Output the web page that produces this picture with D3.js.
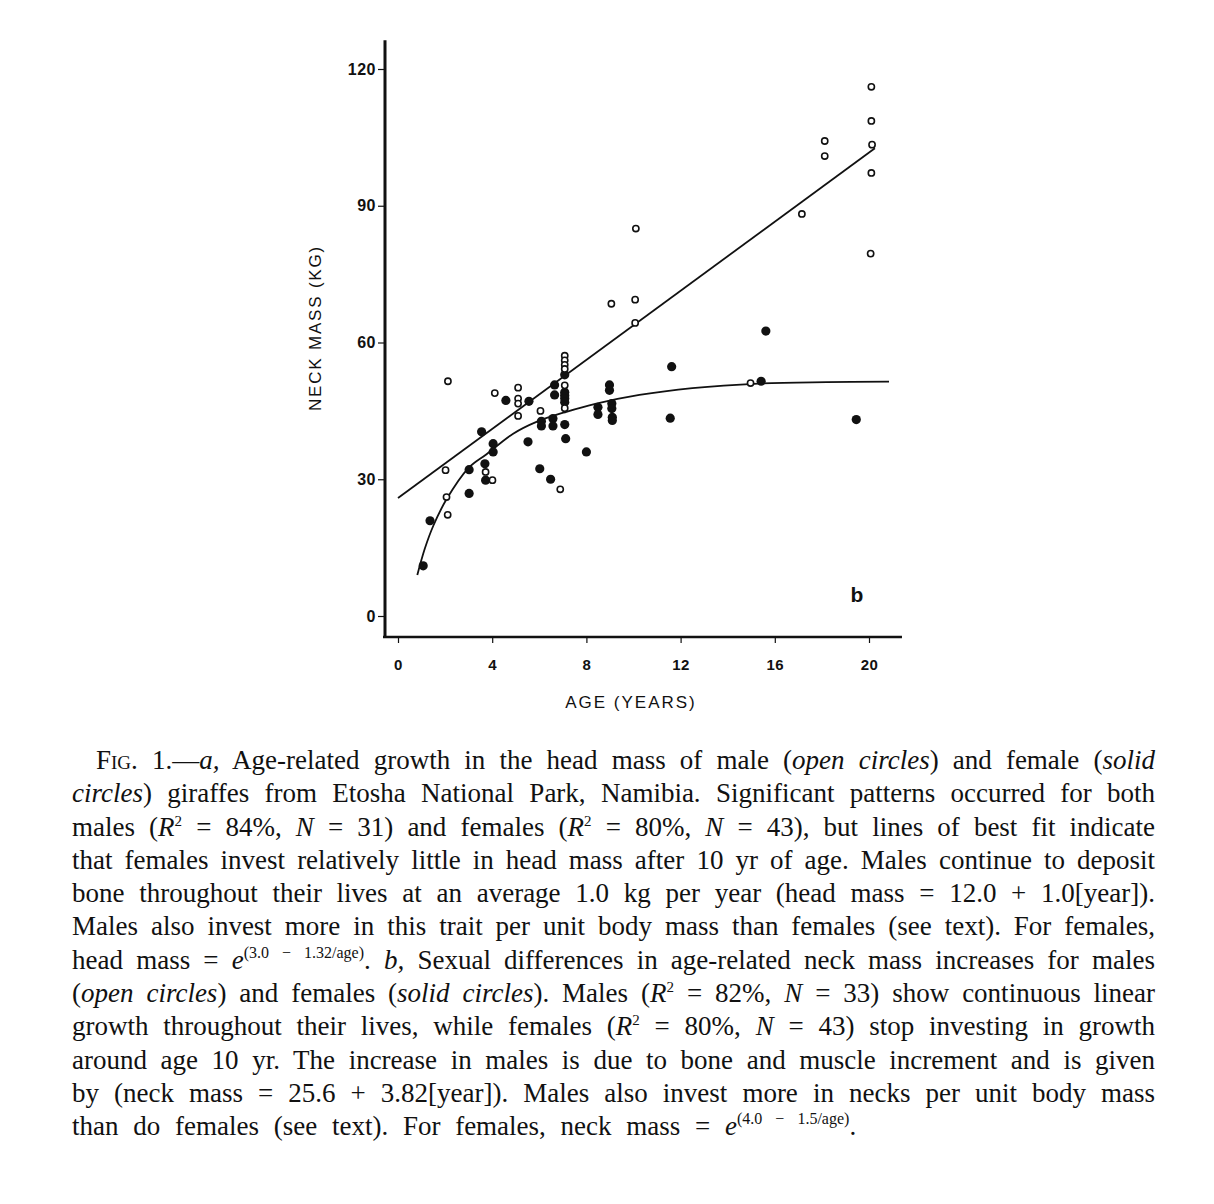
<!DOCTYPE html>
<html>
<head>
<meta charset="utf-8">
<script src="https://cdn.jsdelivr.net/npm/d3@7"></script>
<style>
  body { margin: 0; background: #fff; width: 1214px; height: 1204px; position: relative; overflow: hidden; }
  #chart { position: absolute; left: 0; top: 0; }
  #caption { position: absolute; left: 72px; top: 744px; width: 1083px;
             font-family: "Liberation Serif", "Times New Roman", serif; font-size: 27px; color: #111; }
  #caption .ln { height: 33.3px; line-height: 33.3px; text-align: justify; text-align-last: justify; }
  #caption .ln.last { text-align-last: left; word-spacing: 8px; }
  #caption sup { font-size: 15px; line-height: 0; vertical-align: 0; position: relative; top: -10px; }
  #caption sup.ex { display: inline-block; word-spacing: 0; font-size: 16px; top: -11px; }
  #caption sup.ex .gap { display: inline-block; width: 13px; }
  #caption .sc { font-variant: small-caps; }
</style>
</head>
<body>
<div id="chart"></div>
<div id="caption">
  <div class="ln" style="padding-left:24px"><span class="sc">Fig.</span> 1.—<i>a,</i> Age-related growth in the head mass of male (<i>open circles</i>) and female (<i>solid</i></div>
  <div class="ln"><i>circles</i>) giraffes from Etosha National Park, Namibia. Significant patterns occurred for both</div>
  <div class="ln">males (<i>R</i><sup>2</sup> = 84%, <i>N</i> = 31) and females (<i>R</i><sup>2</sup> = 80%, <i>N</i> = 43), but lines of best fit indicate</div>
  <div class="ln">that females invest relatively little in head mass after 10 yr of age. Males continue to deposit</div>
  <div class="ln">bone throughout their lives at an average 1.0 kg per year (head mass = 12.0 + 1.0[year]).</div>
  <div class="ln">Males also invest more in this trait per unit body mass than females (see text). For females,</div>
  <div class="ln">head mass = <i>e</i><sup class="ex">(3.0<span class="gap"></span>−<span class="gap"></span>1.32/age)</sup>. <i>b,</i> Sexual differences in age-related neck mass increases for males</div>
  <div class="ln">(<i>open circles</i>) and females (<i>solid circles</i>). Males (<i>R</i><sup>2</sup> = 82%, <i>N</i> = 33) show continuous linear</div>
  <div class="ln">growth throughout their lives, while females (<i>R</i><sup>2</sup> = 80%, <i>N</i> = 43) stop investing in growth</div>
  <div class="ln">around age 10 yr. The increase in males is due to bone and muscle increment and is given</div>
  <div class="ln">by (neck mass = 25.6 + 3.82[year]). Males also invest more in necks per unit body mass</div>
  <div class="ln last">than do females (see text). For females, neck mass = <i>e</i><sup class="ex">(4.0<span class="gap"></span>−<span class="gap"></span>1.5/age)</sup>.</div>
</div>
<script>
// males (open circles)
const maleAge = [2.12, 2.02, 2.06, 2.11, 4.11, 4.01, 3.72, 5.10, 5.10, 5.10, 5.10, 6.05, 6.89,
                 7.08, 7.08, 7.08, 7.08, 7.08, 7.08, 9.06, 10.07, 10.07, 10.10, 14.97, 17.15,
                 18.12, 18.12, 20.10, 20.10, 20.13, 20.10, 20.07];
const maleMass = [51.5, 32.0, 26.1, 22.2, 48.9, 29.8, 31.6, 50.1, 47.7, 46.6, 43.9, 45.0, 27.8,
                  57.1, 56.1, 55.1, 54.2, 50.6, 45.6, 68.5, 69.4, 64.3, 85.0, 51.1, 88.2,
                  104.2, 100.9, 116.1, 108.6, 103.4, 97.2, 79.5];

// females (solid circles)
const femaleAge = [1.07, 1.36, 3.02, 3.02, 3.55, 3.69, 3.72, 4.04, 4.04, 4.58, 5.56, 5.52, 6.02,
                   6.48, 6.09, 6.09, 6.58, 6.58, 6.65, 6.65, 7.08, 7.08, 7.08, 7.08, 7.08, 7.08,
                   7.12, 8.00, 8.49, 8.49, 8.98, 8.98, 9.08, 9.08, 9.10, 9.10, 11.62, 11.56,
                   15.42, 15.62, 19.46];
const femaleMass = [11.0, 20.9, 26.9, 32.1, 40.4, 33.4, 29.8, 37.8, 36.0, 47.3, 47.1, 38.2, 32.3,
                    30.0, 42.7, 41.7, 43.3, 41.7, 50.7, 48.5, 52.9, 49.1, 48.4, 47.7, 46.9, 42.0,
                    38.9, 36.0, 45.8, 44.2, 50.7, 49.5, 46.6, 45.5, 43.6, 42.9, 54.7, 43.4,
                    51.5, 62.5, 43.1];

// fitted lines
const maleFitAge = [0, 20.25];
const maleFitMass = [25.9, 102.6];
const femaleFitAge = [0.82, 1.14, 1.5, 2.06, 3.0, 3.76, 4.89, 5.88, 7.15, 8.42, 10.25, 12.5, 15.3, 18.2, 20.85];
const femaleFitMass = [9.0, 14.8, 19.8, 25.6, 32.5, 35.5, 40.0, 42.6, 44.8, 46.6, 48.5, 50.0, 51.0, 51.3, 51.4];

const xTicks = [0, 4, 8, 12, 16, 20];
const yTicks = [0, 30, 60, 90, 120];

const svg = d3.select('#chart')
              .append('svg')
              .attr('width', 1214)
              .attr('height', 1204);

const x = d3.scaleLinear().domain([0, 20]).range([398, 869]);
const y = d3.scaleLinear().domain([0, 120]).range([616, 69]);

const axisX0 = 385;   // y axis position
const axisY0 = 637;   // x axis position

// y axis
svg.append('g')
   .attr('transform', `translate(${axisX0}, 0)`)
   .call(d3.axisLeft(y).tickValues(yTicks).tickSize(7).tickSizeOuter(0).tickPadding(2))
   .call(g => g.select('.domain').remove())
   .call(g => g.selectAll('line').attr('stroke', '#111').attr('stroke-width', 1.2))
   .call(g => g.selectAll('text')
               .attr('fill', '#111')
               .style('font-family', '"Liberation Sans", Arial, sans-serif')
               .style('font-size', '16px')
               .style('font-weight', 'bold')
               .style('letter-spacing', '0.5px'));

svg.append('line')
   .attr('x1', axisX0).attr('x2', axisX0)
   .attr('y1', y(126.3)).attr('y2', axisY0 + 1)
   .attr('stroke', '#111')
   .attr('stroke-width', 3);

// x axis
svg.append('g')
   .attr('transform', `translate(0, ${axisY0})`)
   .call(d3.axisBottom(x).tickValues(xTicks).tickSize(6).tickSizeOuter(0).tickPadding(16))
   .call(g => g.select('.domain').remove())
   .call(g => g.selectAll('line').attr('stroke', '#111').attr('stroke-width', 1.2))
   .call(g => g.selectAll('text')
               .attr('fill', '#111')
               .style('font-family', '"Liberation Sans", Arial, sans-serif')
               .style('font-size', '15px')
               .style('font-weight', 'bold')
               .style('letter-spacing', '0.5px'));

svg.append('line')
   .attr('x1', axisX0 - 2).attr('x2', x(21.4))
   .attr('y1', axisY0).attr('y2', axisY0)
   .attr('stroke', '#111')
   .attr('stroke-width', 2.5);

// axis titles
svg.append('text')
   .attr('x', 631)
   .attr('y', 708)
   .attr('text-anchor', 'middle')
   .attr('fill', '#111')
   .style('font-family', '"Liberation Sans", Arial, sans-serif')
   .style('font-size', '17px')
   .style('letter-spacing', '2px')
   .text('AGE (YEARS)');

svg.append('text')
   .attr('transform', 'translate(321, 328) rotate(-90)')
   .attr('text-anchor', 'middle')
   .attr('fill', '#111')
   .style('font-family', '"Liberation Sans", Arial, sans-serif')
   .style('font-size', '17px')
   .style('letter-spacing', '1.8px')
   .text('NECK MASS (KG)');

svg.append('text')
   .attr('x', 857)
   .attr('y', 602)
   .attr('text-anchor', 'middle')
   .attr('fill', '#111')
   .style('font-family', '"Liberation Sans", Arial, sans-serif')
   .style('font-size', '21px')
   .style('font-weight', 'bold')
   .text('b');

// fit lines
const line = d3.line().x(d => x(d[0])).y(d => y(d[1]));

svg.append('path')
   .datum(maleFitAge.map((a, i) => [a, maleFitMass[i]]))
   .attr('d', line)
   .attr('fill', 'none')
   .attr('stroke', '#111')
   .attr('stroke-width', 1.8);

svg.append('path')
   .datum(femaleFitAge.map((a, i) => [a, femaleFitMass[i]]))
   .attr('d', line.curve(d3.curveCatmullRom))
   .attr('fill', 'none')
   .attr('stroke', '#111')
   .attr('stroke-width', 1.8);

// points
svg.selectAll('.female')
   .data(femaleAge.map((a, i) => [a, femaleMass[i]]))
   .enter()
   .append('circle')
   .attr('class', 'female')
   .attr('cx', d => x(d[0]))
   .attr('cy', d => y(d[1]))
   .attr('r', 4.6)
   .attr('fill', '#111');

svg.selectAll('.male')
   .data(maleAge.map((a, i) => [a, maleMass[i]]))
   .enter()
   .append('circle')
   .attr('class', 'male')
   .attr('cx', d => x(d[0]))
   .attr('cy', d => y(d[1]))
   .attr('r', 3.1)
   .attr('fill', '#fff')
   .attr('stroke', '#111')
   .attr('stroke-width', 1.6);
</script>
</body>
</html>
